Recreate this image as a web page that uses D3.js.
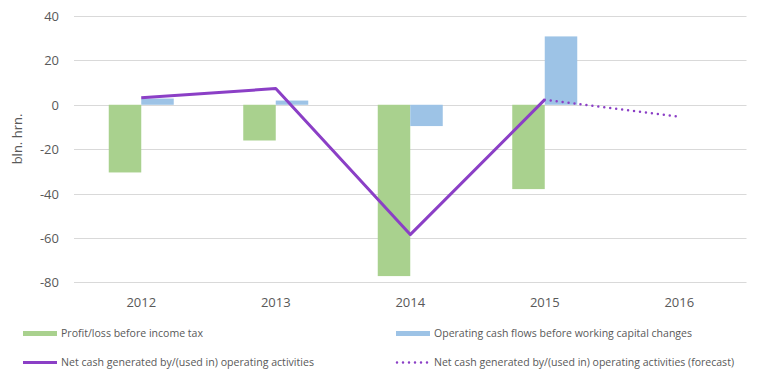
<!DOCTYPE html>
<html><head><meta charset="utf-8">
<script src="https://cdn.jsdelivr.net/npm/d3@7"></script>
<style>body{margin:0;background:#fff}svg{display:block}text{font-family:"Open Sans",sans-serif;fill:#595959}</style>
</head><body>
<script>
const categories = ["2012","2013","2014","2015","2016"];
const profitLoss = [-30.5, -16.1, -77.2, -38.0, null];
const operatingCash = [2.8, 1.9, -9.6, 30.8, null];
const netCash = [3.2, 7.3, -58.5, 2.3];
const netCashForecast = [null, null, null, 2.3, -5.4];
const yTicks = [40, 20, 0, -20, -40, -60, -80];
const legendLabels = ["Profit/loss before income tax","Operating cash flows before working capital changes","Net cash generated by/(used in) operating activities","Net cash generated by/(used in) operating activities (forecast)"];

const W = 762, H = 381;
const svg = d3.select("body").append("svg").attr("width", W).attr("height", H);
const x = d3.scaleBand().domain(categories).range([74, 746.5]);
const y = d3.scaleLinear().domain([-80, 40]).range([282.3, 16]);
const green = "#A9D18E", blue = "#9DC3E6", purple = "#8B3FC6";
const bw = 32.5;

// grid
svg.append("g").selectAll("line").data(yTicks).join("line")
  .attr("x1", 74).attr("x2", 746.5)
  .attr("y1", d => Math.round(y(d)) + 0.5).attr("y2", d => Math.round(y(d)) + 0.5)
  .attr("stroke", "#D9D9D9").attr("stroke-width", 1);

// y axis labels
const yAxis = d3.axisLeft(y).tickValues(yTicks).tickSize(0).tickPadding(0).tickFormat(d => String(d));
const ya = svg.append("g").attr("transform", "translate(59,0)").call(yAxis);
ya.select(".domain").remove();
ya.selectAll("text").attr("font-size", 13).attr("fill", "#595959").attr("font-family", "Open Sans, sans-serif").attr("dy", "0.35em");

// x axis labels
const xAxis = d3.axisBottom(x).tickSize(0).tickPadding(0);
const xa = svg.append("g").attr("transform", "translate(0,298)").call(xAxis);
xa.select(".domain").remove();
xa.selectAll("text").attr("font-size", 13).attr("fill", "#595959").attr("font-family", "Open Sans, sans-serif");

// y title
svg.append("text").attr("transform", "translate(22,139) rotate(-90)")
  .attr("text-anchor", "middle").attr("font-size", 13).text("bln. hrn.");

const cx = c => x(c) + x.bandwidth() / 2;

// bars
svg.append("g").selectAll("rect").data(categories.map((c, i) => ({c, v: profitLoss[i]})).filter(d => d.v != null))
  .join("rect").attr("x", d => cx(d.c) - bw).attr("width", bw)
  .attr("y", d => y(Math.max(0, d.v))).attr("height", d => Math.abs(y(d.v) - y(0)))
  .attr("fill", green);
svg.append("g").selectAll("rect").data(categories.map((c, i) => ({c, v: operatingCash[i]})).filter(d => d.v != null))
  .join("rect").attr("x", d => cx(d.c)).attr("width", bw)
  .attr("y", d => y(Math.max(0, d.v))).attr("height", d => Math.abs(y(d.v) - y(0)))
  .attr("fill", blue);

// lines
const line = d3.line().x(d => cx(d.c)).y(d => y(d.v));
svg.append("path").datum(categories.map((c, i) => ({c, v: netCash[i]})).filter(d => d.v != null))
  .attr("d", line).attr("fill", "none").attr("stroke", purple).attr("stroke-width", 3).attr("stroke-linejoin", "round");
svg.append("path").datum(categories.map((c, i) => ({c, v: netCashForecast[i]})).filter(d => d.v != null))
  .attr("d", line).attr("fill", "none").attr("stroke", purple).attr("stroke-width", 2.5)
  .attr("stroke-dasharray", "0,6").attr("stroke-linecap", "round");

// legend
const lg = svg.append("g");
const items = [
  {x: 23, y: 333.5, type: "rect", color: green, label: legendLabels[0], w: 142},
  {x: 396, y: 333.5, type: "rect", color: blue, label: legendLabels[1], w: 258},
  {x: 23, y: 362.5, type: "line", color: purple, label: legendLabels[2], w: 253},
  {x: 396, y: 362.5, type: "dot", color: purple, label: legendLabels[3], w: 300},
];
items.forEach(it => {
  if (it.type === "rect") lg.append("rect").attr("x", it.x).attr("y", it.y - 2.5).attr("width", 34).attr("height", 5).attr("fill", it.color);
  else if (it.type === "line") lg.append("line").attr("x1", it.x).attr("x2", it.x + 34).attr("y1", it.y).attr("y2", it.y).attr("stroke", it.color).attr("stroke-width", 3);
  else lg.append("line").attr("x1", it.x + 1).attr("x2", it.x + 34).attr("y1", it.y).attr("y2", it.y).attr("stroke", it.color).attr("stroke-width", 2.5).attr("stroke-dasharray", "0,6").attr("stroke-linecap", "round");
  lg.append("text").attr("x", it.x + 38).attr("y", it.y).attr("dy", "0.35em").attr("font-size", 10.6)
    .attr("textLength", it.w).attr("lengthAdjust", "spacingAndGlyphs").text(it.label);
});
</script>
</body></html>
